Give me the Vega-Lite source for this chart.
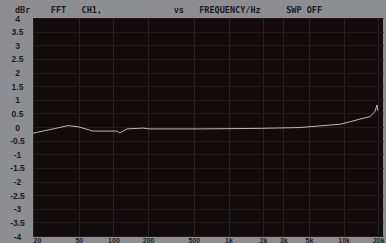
{
  "$schema": "https://vega.github.io/schema/vega-lite/v6.json",
  "width": 350,
  "height": 218,
  "autosize": {"type": "none"},
  "padding": {"left": 33, "top": 18, "right": 3, "bottom": 7},
  "background": "#8d8e92",
  "title": {
    "text": "dBr\u00a0\u00a0\u00a0\u00a0FFT\u00a0\u00a0\u00a0CH1,\u00a0\u00a0\u00a0\u00a0\u00a0\u00a0\u00a0\u00a0\u00a0\u00a0\u00a0\u00a0\u00a0\u00a0vs\u00a0\u00a0\u00a0FREQUENCY/Hz\u00a0\u00a0\u00a0\u00a0\u00a0SWP OFF",
    "anchor": "start",
    "frame": "group",
    "dx": -18,
    "dy": 7,
    "offset": 0,
    "baseline": "alphabetic",
    "font": "DejaVu Sans Mono",
    "fontSize": 8.5,
    "fontWeight": "bold",
    "color": "#1c1c1c"
  },
  "config": {"view": {"fill": "#110c0b", "stroke": null}},
  "data": {
    "values": [
      {"freq": 20, "dBr": -0.23},
      {"freq": 27, "dBr": -0.11},
      {"freq": 33, "dBr": -0.03},
      {"freq": 40.3, "dBr": 0.05},
      {"freq": 49.2, "dBr": 0.01},
      {"freq": 57.7, "dBr": -0.07},
      {"freq": 66.4, "dBr": -0.15},
      {"freq": 107, "dBr": -0.15},
      {"freq": 114, "dBr": -0.22},
      {"freq": 131, "dBr": -0.07},
      {"freq": 180, "dBr": -0.04},
      {"freq": 208, "dBr": -0.07},
      {"freq": 565, "dBr": -0.07},
      {"freq": 1876, "dBr": -0.05},
      {"freq": 4174, "dBr": -0.02},
      {"freq": 7607, "dBr": 0.07},
      {"freq": 9300, "dBr": 0.1},
      {"freq": 11350, "dBr": 0.19},
      {"freq": 13870, "dBr": 0.29},
      {"freq": 16940, "dBr": 0.38},
      {"freq": 18710, "dBr": 0.56},
      {"freq": 19500, "dBr": 0.81},
      {"freq": 19800, "dBr": 0.6}
    ]
  },
  "mark": {"type": "line", "color": "#b9bab2", "strokeWidth": 1, "clip": true},
  "encoding": {
    "x": {
      "field": "freq",
      "type": "quantitative",
      "scale": {"type": "log", "domain": [20, 22000]},
      "axis": {
        "values": [20, 50, 100, 200, 500, 1000, 2000, 3000, 5000, 10000, 20000],
        "labelExpr": "datum.value >= 1000 ? (datum.value / 1000) + 'k' : '' + datum.value",
        "title": null,
        "ticks": false,
        "domain": false,
        "labelPadding": 0,
        "labelBaseline": "top",
        "labelFlush": 2,
        "labelFont": "Liberation Sans",
        "labelFontSize": 7,
        "labelFontWeight": "bold",
        "labelColor": "#1c1c1c",
        "labelOverlap": false,
        "grid": true,
        "gridColor": "#2a2220",
        "gridWidth": 1
      }
    },
    "y": {
      "field": "dBr",
      "type": "quantitative",
      "scale": {"domain": [-4, 4]},
      "axis": {
        "values": [-4, -3.5, -3, -2.5, -2, -1.5, -1, -0.5, 0, 0.5, 1, 1.5, 2, 2.5, 3, 3.5, 4],
        "labelExpr": "datum.value < 0 ? '-' + abs(datum.value) : '' + datum.value",
        "title": null,
        "ticks": false,
        "domain": false,
        "labelAlign": "center",
        "labelPadding": 16,
        "labelFont": "Liberation Sans",
        "labelFontSize": 8.5,
        "labelFontWeight": "bold",
        "labelColor": "#1c1c1c",
        "labelOverlap": false,
        "grid": true,
        "gridColor": "#231b1a",
        "gridWidth": 1
      }
    }
  }
}
